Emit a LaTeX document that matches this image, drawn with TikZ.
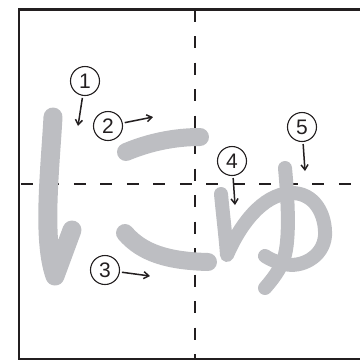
\documentclass[tikz,border=0pt]{standalone}
\usepackage{fontspec}
\usepackage{tikz}
\usetikzlibrary{arrows.meta}
\newfontfamily\numfont{Liberation Sans}
\definecolor{kana}{RGB}{189,190,194}
\definecolor{ink}{RGB}{35,31,32}

\begin{document}
\begin{tikzpicture}[x=1pt,y=-1pt]
	\useasboundingbox (0,0) rectangle (360,360);
	% frame and guide lines
	\draw[ink, line width=2.8pt] (380,9.7) -- (19,9.7) -- (19,359.5) -- (380,359.5);
	\draw[ink, line width=2.6pt, dash pattern=on 12pt off 14.5pt] (195,9.7) -- (195,360);
	\draw[ink, line width=2.6pt, dash pattern=on 12pt off 14.5pt, dash phase=-2pt] (19,184) -- (360,184);
	% ni
	\draw[kana, line width=19pt, line cap=round, line join=round] (53,117) .. controls (50,170) and (42,240) .. (55,276) -- (72,230);
	\draw[kana, line width=18pt, line cap=round] (126,152) .. controls (150,142) and (175,137) .. (200,137);
	\draw[kana, line width=18pt, line cap=round] (125,233) .. controls (142,253) and (168,261) .. (208,262);
	% small yu
	\draw[kana, line width=14pt, line cap=round, line join=round] (221,194) .. controls (223,215) and (226,240) .. (227,255)
		.. controls (240,225) and (262,195) .. (290,193) .. controls (315,192) and (326,215) .. (325,236)
		.. controls (323,258) and (300,268) .. (285,264) .. controls (275,262) and (268,258) .. (265,256);
	\draw[kana, line width=14pt, line cap=round] (285,168) .. controls (288,200) and (290,240) .. (284,258) .. controls (280,270) and (272,280) .. (265,288);
	% stroke numbers
	\tikzset{num/.style={circle, draw=ink, line width=1.1pt, minimum size=29pt, inner sep=0pt, text=ink, font=\numfont\fontsize{21}{21}\selectfont},
		numarrow/.style={ink, line width=1.5pt, -{Straight Barb[length=5pt,width=7pt]}, shorten <=2pt}}
	\node[num] (n1) at (85,81) {1};
	\node[num] (n2) at (108,126) {2};
	\node[num] (n3) at (105,270) {3};
	\node[num] (n4) at (232,161) {4};
	\node[num] (n5) at (302,127) {5};
	\coordinate (t1) at (78,126);
	\coordinate (t2) at (153,117);
	\coordinate (t3) at (150,276);
	\coordinate (t4) at (235,205);
	\coordinate (t5) at (305,171);
	\foreach \i in {1,...,5}
		\draw[numarrow] (n\i) -- (t\i);
\end{tikzpicture}
\end{document}
